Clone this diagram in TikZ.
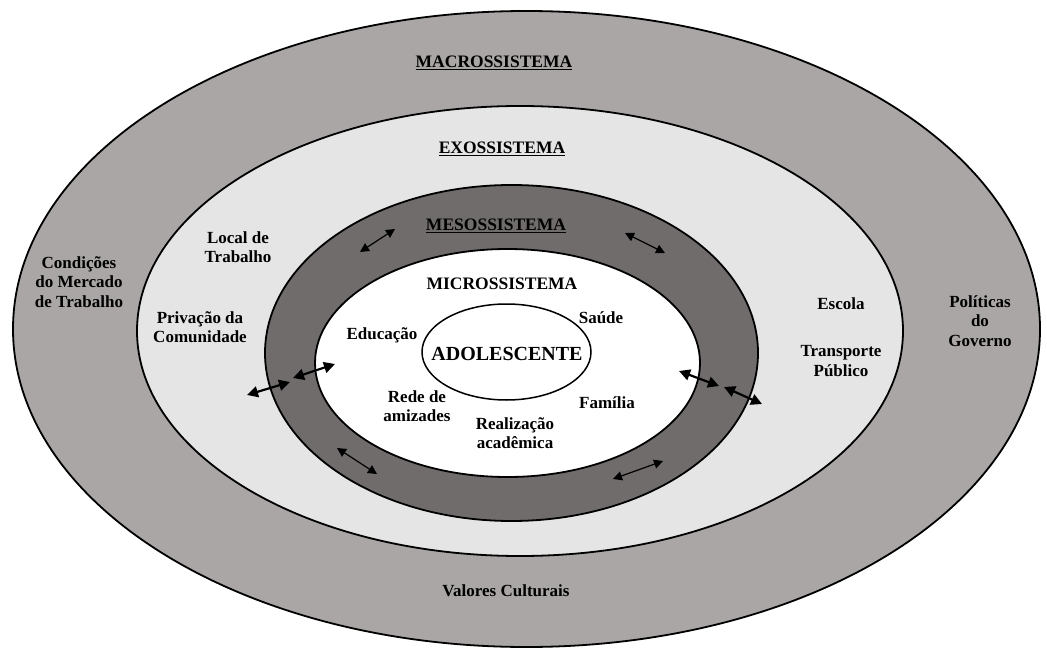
\documentclass[tikz,border=0pt]{standalone}
\usepackage{fontspec}
\setmainfont{Liberation Serif}
\usetikzlibrary{arrows.meta,shapes.geometric}
\definecolor{macrocol}{HTML}{A9A6A5}
\definecolor{exocol}{HTML}{E5E5E5}
\definecolor{mesocol}{HTML}{6F6C6B}
\newcommand{\ulin}[1]{\underline{#1}}
\begin{document}
\begin{tikzpicture}[x=1pt,y=-1pt,
  ring/.style={ellipse, draw=black, line width=1.8pt, inner sep=0pt},
  lbl/.style={font=\fontsize{17}{19.5}\selectfont\bfseries, align=center, inner sep=0pt},
  head/.style={font=\fontsize{17.5}{20}\selectfont\bfseries, align=center, inner sep=0pt},
  biarrow/.style={{Triangle[length=9pt,width=9pt]}-{Triangle[length=9pt,width=9pt]}, line width=1.2pt},
  biarrowthick/.style={{Triangle[length=11pt,width=11pt]}-{Triangle[length=11pt,width=11pt]}, line width=2.2pt}]
\useasboundingbox (0,0) rectangle (1047,650);
\fill[white] (0,0) rectangle (1047,650);
\node[ring, fill=macrocol, minimum width=1027pt, minimum height=636pt] (macro) at (526.5,329) {};
\node[ring, fill=exocol, minimum width=766pt, minimum height=450pt] (exo) at (520,331) {};
\node[ring, fill=mesocol, minimum width=493pt, minimum height=336pt] (meso) at (511.5,353) {};
\node[ring, fill=white, minimum width=385pt, minimum height=228pt] (micro) at (507.5,363) {};
\node[ring, fill=white, line width=1.5pt, minimum width=169pt, minimum height=96pt] (adol) at (506.5,352) {};

\node[head] (tmacro) at (494,63) {\ulin{MACROSSISTEMA}};
\node[head] (texo) at (502,149) {\ulin{EXOSSISTEMA}};
\node[head] (tmeso) at (496,226) {\ulin{MESOSSISTEMA}};
\node[head] (tmicro) at (502,284) {MICROSSISTEMA};
\node[font=\fontsize{20}{22}\selectfont\bfseries, inner sep=0pt] (tadol) at (507,354) {ADOLESCENTE};

\node[lbl] (educ) at (382,335) {Educação};
\node[lbl] (saude) at (601,318) {Saúde};
\node[lbl] (rede) at (417,406) {Rede de\\amizades};
\node[lbl] (real) at (515,433) {Realização\\acadêmica};
\node[lbl] (fam) at (607,403) {Família};
\node[lbl] (local) at (238,247) {Local de\\Trabalho};
\node[lbl] (priv) at (200,327) {Privação da\\Comunidade};
\node[lbl] (cond) at (79,282) {Condições\\do Mercado\\de Trabalho};
\node[lbl] (escola) at (841,304) {Escola};
\node[lbl] (transp) at (841,361) {Transporte\\Público};
\node[lbl] (polit) at (980,321) {Políticas\\do\\Governo};
\node[lbl] (valores) at (506,591) {Valores Culturais};

\coordinate (a1s) at (360,252); \coordinate (a1e) at (395,229);
\coordinate (a2s) at (625,233); \coordinate (a2e) at (665,253);
\coordinate (a3s) at (247,395); \coordinate (a3e) at (290,382);
\coordinate (a4s) at (293,378); \coordinate (a4e) at (335,364);
\coordinate (a5s) at (679,371); \coordinate (a5e) at (719,386);
\coordinate (a6s) at (724,387); \coordinate (a6e) at (762,404);
\coordinate (a7s) at (337,448); \coordinate (a7e) at (377,474);
\coordinate (a8s) at (613,479); \coordinate (a8e) at (663,461);
\draw[biarrow] (a1s) -- (a1e);
\draw[biarrow] (a2s) -- (a2e);
\draw[biarrowthick] (a3s) -- (a3e);
\draw[biarrowthick] (a4s) -- (a4e);
\draw[biarrowthick] (a5s) -- (a5e);
\draw[biarrowthick] (a6s) -- (a6e);
\draw[biarrow] (a7s) -- (a7e);
\draw[biarrow] (a8s) -- (a8e);
\end{tikzpicture}
\end{document}
